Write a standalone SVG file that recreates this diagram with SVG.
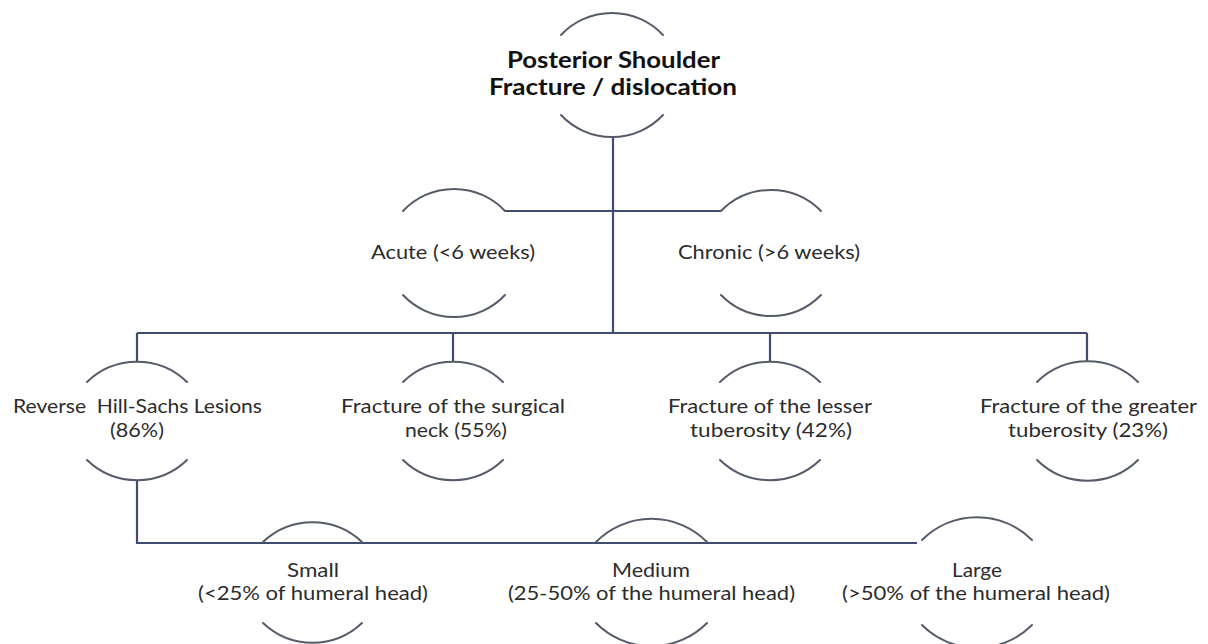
<svg xmlns="http://www.w3.org/2000/svg" width="1208" height="644" viewBox="0 0 1208 644">
<style>
.bg{fill:#ffffff}
.arc{fill:none;stroke:#565b6a;stroke-width:2;stroke-linecap:round}
.con{fill:none;stroke:#414d70;stroke-width:2.2}
.t{font-family:Lato,"Open Sans","Liberation Sans",sans-serif;font-size:19px;fill:#2c2c2c}
.title{font-family:Lato,"Open Sans","Liberation Sans",sans-serif;font-size:22px;font-weight:bold;fill:#111111}
</style>
<rect class="bg" x="0" y="0" width="1208" height="644"/>
<g id="connectors">
  <path class="con" d="M613 137 V333"/>
  <path class="con" d="M505 211 H721"/>
  <path class="con" d="M137 333 H1087"/>
  <path class="con" d="M137 333 V361"/>
  <path class="con" d="M453 333 V361"/>
  <path class="con" d="M770 333 V361"/>
  <path class="con" d="M1087 333 V361"/>
  <path class="con" d="M137 480 V543 H917"/>
</g>
<g id="node-root">
  <path class="arc" d="M561 35 A70 70 0 0 1 663 35"/>
  <path class="arc" d="M561 115 A70 70 0 0 0 663 115"/>
  <text class="title" x="507" y="68" textLength="213" lengthAdjust="spacingAndGlyphs">Posterior Shoulder</text>
  <text class="title" x="489" y="95" textLength="248" lengthAdjust="spacingAndGlyphs">Fracture / dislocation</text>
</g>
<g id="node-acute">
  <path class="arc" d="M403 211 A70 70 0 0 1 505 211"/>
  <path class="arc" d="M403 295 A70 70 0 0 0 505 295"/>
  <text class="t" x="371" y="259" textLength="164" lengthAdjust="spacingAndGlyphs">Acute (&lt;6 weeks)</text>
</g>
<g id="node-chronic">
  <path class="arc" d="M721 211 A70 70 0 0 1 821 211"/>
  <path class="arc" d="M721 295 A70 70 0 0 0 821 295"/>
  <text class="t" x="678" y="259" textLength="182" lengthAdjust="spacingAndGlyphs">Chronic (&gt;6 weeks)</text>
</g>
<g id="node-hillsachs">
  <path class="arc" d="M87 382 A72 72 0 0 1 187 382"/>
  <path class="arc" d="M87 460 A72 72 0 0 0 187 460"/>
  <text class="t" x="13" y="413" textLength="249" lengthAdjust="spacingAndGlyphs" xml:space="preserve">Reverse  Hill-Sachs Lesions</text>
  <text class="t" x="110" y="437" textLength="54" lengthAdjust="spacingAndGlyphs">(86%)</text>
</g>
<g id="node-surgical">
  <path class="arc" d="M403 382 A72 72 0 0 1 503 382"/>
  <path class="arc" d="M403 460 A72 72 0 0 0 503 460"/>
  <text class="t" x="341" y="413" textLength="224" lengthAdjust="spacingAndGlyphs">Fracture of the surgical</text>
  <text class="t" x="405" y="437" textLength="102" lengthAdjust="spacingAndGlyphs">neck (55%)</text>
</g>
<g id="node-lesser">
  <path class="arc" d="M720 382 A72 72 0 0 1 820 382"/>
  <path class="arc" d="M720 460 A72 72 0 0 0 820 460"/>
  <text class="t" x="668" y="413" textLength="204" lengthAdjust="spacingAndGlyphs">Fracture of the lesser</text>
  <text class="t" x="690" y="437" textLength="162" lengthAdjust="spacingAndGlyphs">tuberosity (42%)</text>
</g>
<g id="node-greater">
  <path class="arc" d="M1037 382 A72 72 0 0 1 1138 382"/>
  <path class="arc" d="M1037 460 A72 72 0 0 0 1138 460"/>
  <text class="t" x="980" y="413" textLength="217" lengthAdjust="spacingAndGlyphs">Fracture of the greater</text>
  <text class="t" x="1008" y="437" textLength="160" lengthAdjust="spacingAndGlyphs">tuberosity (23%)</text>
</g>
<g id="node-small">
  <path class="arc" d="M263 542 A72 72 0 0 1 362 542"/>
  <path class="arc" d="M263 623 A72 72 0 0 0 362 623"/>
  <text class="t" x="287" y="577" textLength="52" lengthAdjust="spacingAndGlyphs">Small</text>
  <text class="t" x="198" y="600" textLength="230" lengthAdjust="spacingAndGlyphs">(&lt;25% of humeral head)</text>
</g>
<g id="node-medium">
  <path class="arc" d="M596 542 A78 78 0 0 1 707 542"/>
  <path class="arc" d="M596 623 A78 78 0 0 0 707 623"/>
  <text class="t" x="612" y="577" textLength="78" lengthAdjust="spacingAndGlyphs">Medium</text>
  <text class="t" x="508" y="600" textLength="287" lengthAdjust="spacingAndGlyphs">(25-50% of the humeral head)</text>
</g>
<g id="node-large">
  <path class="arc" d="M922 540 A78 78 0 0 1 1032 540"/>
  <path class="arc" d="M922 625 A78 78 0 0 0 1032 625"/>
  <text class="t" x="952" y="577" textLength="50" lengthAdjust="spacingAndGlyphs">Large</text>
  <text class="t" x="842" y="600" textLength="268" lengthAdjust="spacingAndGlyphs">(&gt;50% of the humeral head)</text>
</g>
</svg>
